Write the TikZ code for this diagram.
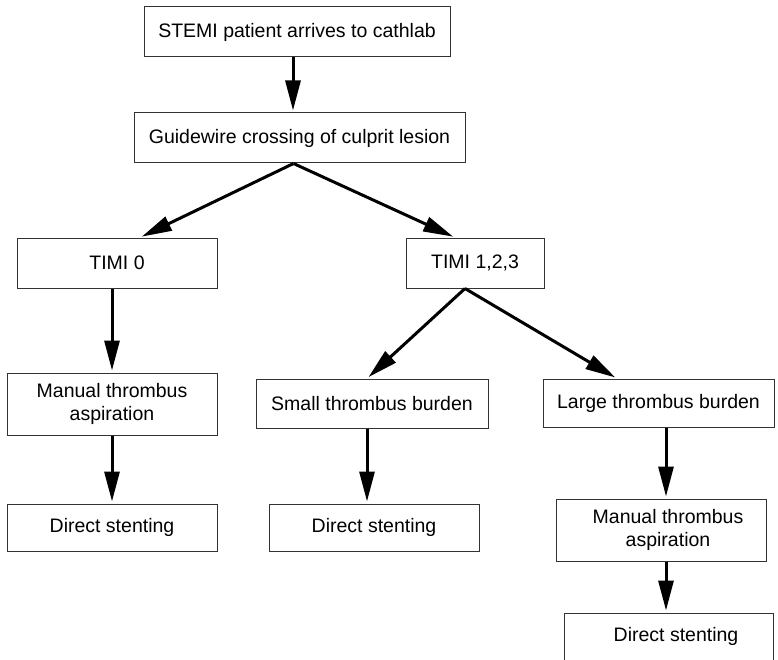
\documentclass[tikz,border=0pt]{standalone}
\usepackage{fontspec}
\setmainfont{Liberation Sans}
\usetikzlibrary{arrows.meta}

\begin{document}
\begin{tikzpicture}[x=1pt, y=-1pt,
  box/.style={draw=black!80, line width=1pt, align=center, inner sep=0pt,
    font=\fontsize{19.5}{23}\selectfont},
  arr/.style={-{Triangle[length=30pt, width=15pt]}, line width=3pt, shorten >=2pt}]
\useasboundingbox (0,0) rectangle (778,660);

\node[box, minimum width=306pt, minimum height=50pt] (A) at (297,32) {STEMI patient arrives to cathlab};
\node[box, minimum width=331pt, minimum height=50pt] (B) at (299.5,138) {Guidewire crossing of culprit lesion};
\node[box, minimum width=200pt, minimum height=50pt] (C) at (117,263) {TIMI 0};
\node[box, minimum width=138pt, minimum height=50pt] (D) at (475,263) {TIMI 1,2,3};
\node[box, minimum width=210pt, minimum height=62pt] (E) at (112,404) {Manual thrombus\\aspiration};
\node[box, minimum width=232pt, minimum height=49pt] (F) at (372,403.5) {Small thrombus burden};
\node[box, minimum width=231pt, minimum height=48pt] (G) at (658.5,403) {Large thrombus burden};
\node[box, minimum width=210pt, minimum height=47pt] (H) at (112,527.5) {Direct stenting};
\node[box, minimum width=210pt, minimum height=47pt] (I) at (374,527.5) {Direct stenting};
\node[box, minimum width=210pt, minimum height=62pt] (J) at (661,530) {\hspace*{14pt}Manual thrombus\\\hspace*{14pt}aspiration};
\node[box, minimum width=209pt, minimum height=47pt] (K) at (668.5,636.5) {\hspace*{15pt}Direct stenting};

\draw[arr] ([xshift=-4pt]A.south) -- ([xshift=-4pt]A.south |- B.north);
\draw[arr] ([xshift=-6pt]B.south) -- ([xshift=23pt]C.north);
\draw[arr] ([xshift=-6pt]B.south) -- ([xshift=-20pt]D.north);
\draw[arr] ([xshift=-5pt]C.south) -- (E.north);
\draw[arr] (E.south) -- (H.north);
\draw[arr] ([xshift=-10pt]D.south) -- ([xshift=-5pt]F.north);
\draw[arr] ([xshift=-10pt]D.south) -- ([xshift=-41.5pt]G.north);
\draw[arr] ([xshift=-5pt]F.south) -- ([xshift=-5pt]F.south |- I.north);
\draw[arr] ([xshift=7.5pt]G.south) -- ([xshift=7.5pt]G.south |- J.north);
\draw[arr] ([xshift=5pt]J.south) -- ([xshift=5pt]J.south |- K.north);
\end{tikzpicture}
\end{document}
